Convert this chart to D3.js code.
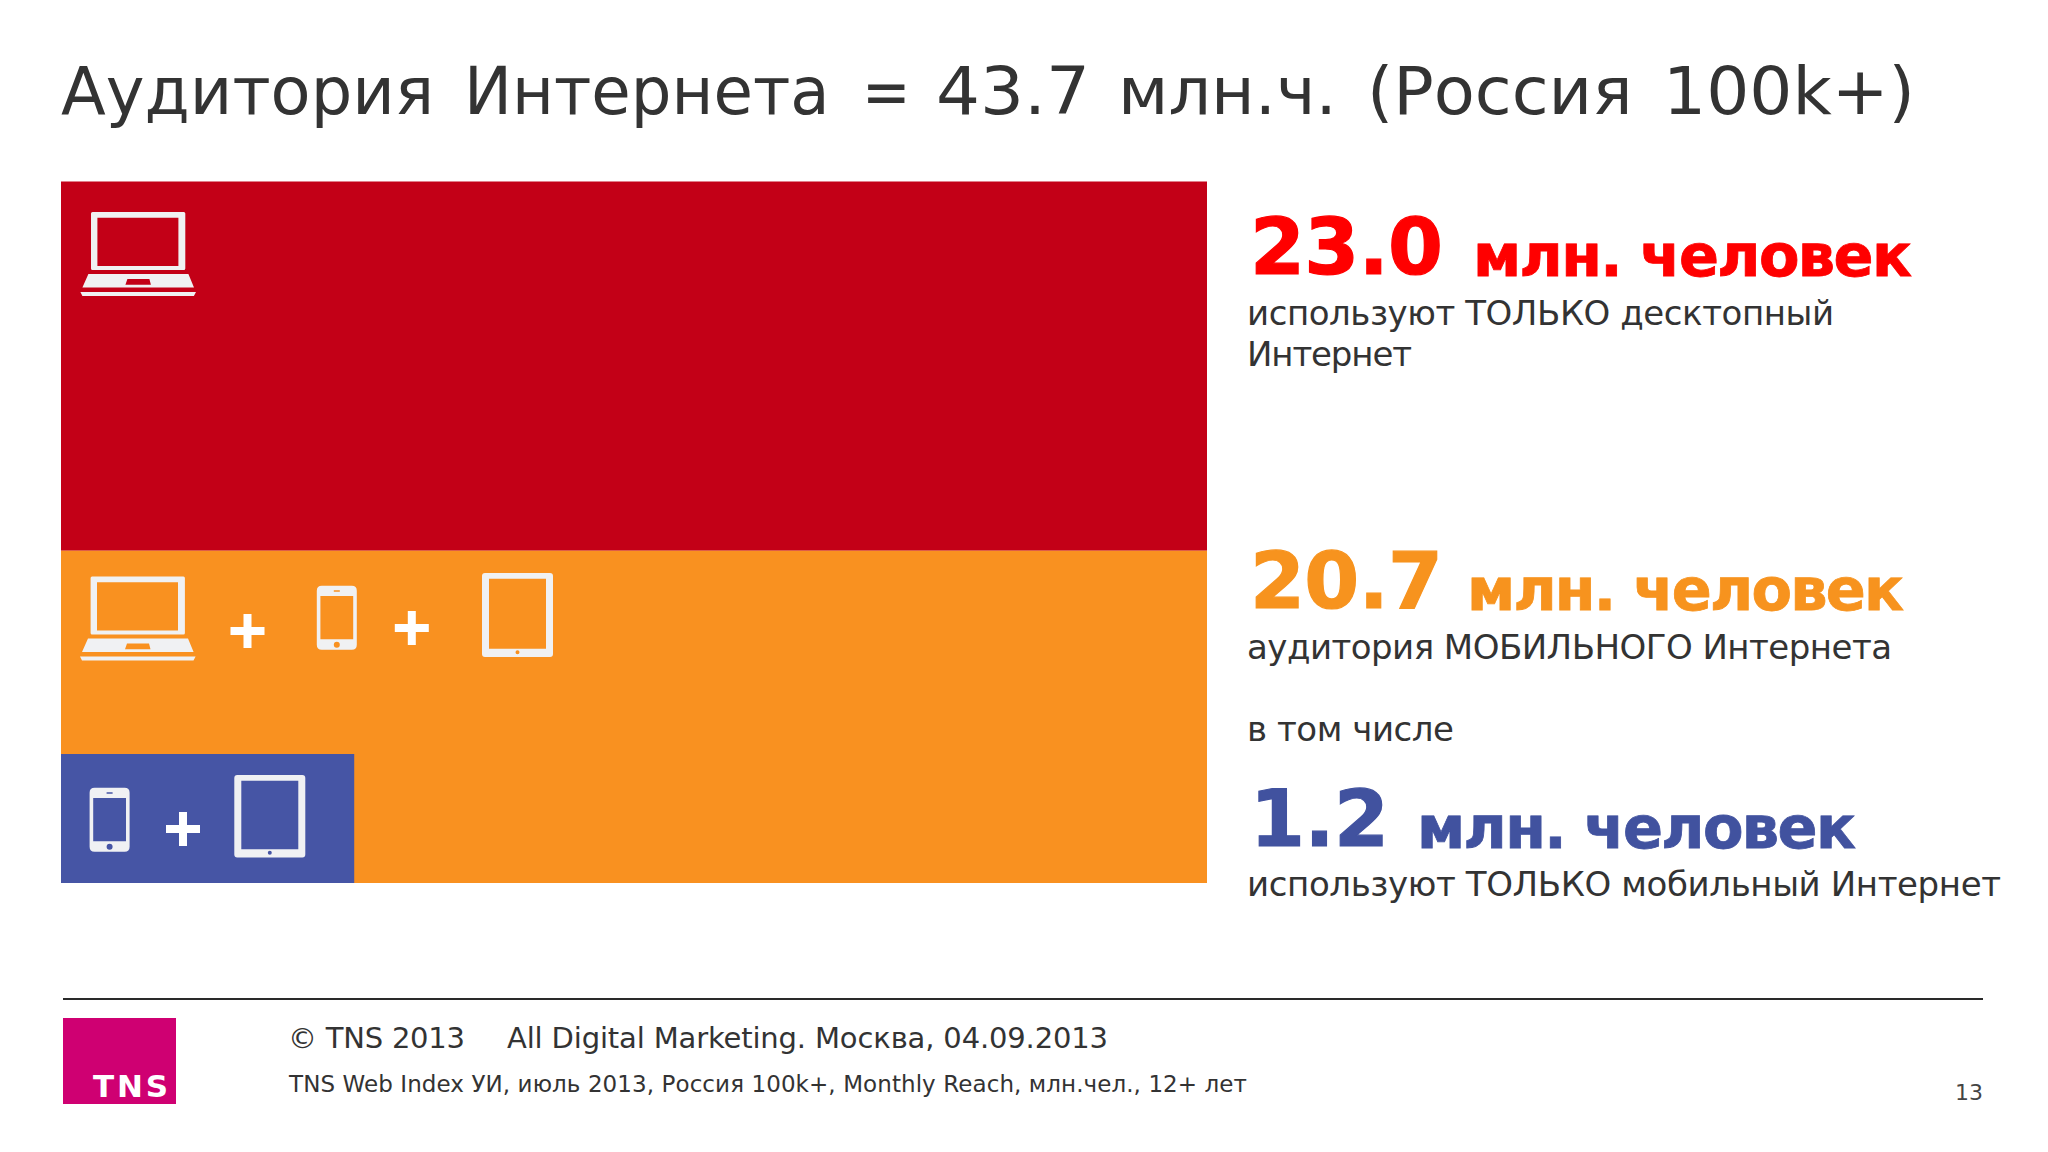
<!DOCTYPE html>
<html>
<head>
<meta charset="utf-8">
<style>
html, body { margin: 0; padding: 0; background: #fff; }
svg { display: block; }
text { font-family: "DejaVu Sans", sans-serif; }
</style>
<script src="https://cdn.jsdelivr.net/npm/d3@7"></script>
</head>
<body>
<svg id="chart" width="2048" height="1152"></svg>
<script>
// values, millions of people
const segments = ["Только десктоп", "Мобильный Интернет"];
const segmentValues = [23.0, 20.7];
const segmentColors = ["#c30017", "#f99120"];
const mobileOnlyValue = 1.2;
const numberLabels = ["23.0", "20.7", "1.2"];
const numberColors = ["#ff0000", "#f7931e", "#41529f"];
const unitLabel = "млн. человек";
const titleWords = ["Аудитория", "Интернета", "=", "43.7", "млн.ч.", "(Россия", "100k+)"];

const svg = d3.select("#chart");
const iconFill = "#f0f1f3";
const textColor = "#333";

const chartLeft = 61, chartRight = 1207, chartTop = 181.5, chartBottom = 883;
const insetTop = 754;

const y = d3.scaleLinear().domain([0, d3.sum(segmentValues)]).range([chartTop, chartBottom]);
// inset is drawn wider than its share of the bar, same as on the slide
const xInset = d3.scaleLinear().domain([0, 4.69]).range([chartLeft, chartRight]);

let acc = 0;
segmentValues.forEach((v, i) => {
    svg.append("rect")
        .attr("x", chartLeft)
        .attr("y", y(acc))
        .attr("width", chartRight - chartLeft)
        .attr("height", y(acc + v) - y(acc))
        .attr("fill", segmentColors[i]);
    acc += v;
});

svg.append("rect")
    .attr("x", chartLeft)
    .attr("y", insetTop)
    .attr("width", xInset(mobileOnlyValue) - chartLeft)
    .attr("height", chartBottom - insetTop)
    .attr("fill", "#4655a5");

function addText(str, x, baseline, size, opts = {}) {
    const t = svg.append("text")
        .attr("x", x)
        .attr("y", baseline)
        .style("font-size", size + "px")
        .style("font-weight", opts.weight || "normal")
        .style("fill", opts.fill || textColor)
        .text(str);
    if (opts.width) t.attr("textLength", opts.width);
    if (opts.family) t.style("font-family", opts.family);
    if (opts.heavy) t.style("stroke", opts.fill).style("stroke-width", opts.heavy);
    return t;
}

// title, word by word because the slide font is narrower than DejaVu in places
const titleStart = [61, 464, 862, 936, 1118, 1367, 1663];
const titleWidth = [373, 365, 46, 155, 219, 266, 252];
const spaceWidth = 21; // trailing space counts in textLength
const title = svg.append("text").attr("y", 114).style("font-size", "66px").style("fill", "#333");
titleWords.forEach((w, i) => {
    const last = i === titleWords.length - 1;
    title.append("tspan")
        .attr("x", titleStart[i])
        .attr("textLength", last ? titleWidth[i] : titleWidth[i] + spaceWidth)
        .attr("lengthAdjust", "spacingAndGlyphs")
        .text(last ? w : w + " ");
});

// big numbers + captions
const big = (i, x, base, w) => addText(numberLabels[i], x, base, 79, { weight: "bold", fill: numberColors[i], width: w, heavy: 1.2 });
const unit = (i, x, base, w) => addText(unitLabel, x, base, 59, { weight: "bold", fill: numberColors[i], width: w, heavy: 0.8 });

big(0, 1250, 274, 193);
unit(0, 1473, 275.5, 439);
addText("используют ТОЛЬКО десктопный", 1247, 325, 34, { width: 587 });
addText("Интернет", 1247, 366, 34, { width: 165 });

big(1, 1250, 608, 193);
unit(1, 1467, 609.5, 437);
addText("аудитория МОБИЛЬНОГО Интернета", 1247, 659, 34, { width: 645 });
addText("в том числе", 1247, 741, 34, { width: 207 });

big(2, 1250, 846, 139);
unit(2, 1417, 847.5, 439);
addText("используют ТОЛЬКО мобильный Интернет", 1247, 896, 34, { width: 754 });

// footer
svg.append("line")
    .attr("x1", 63).attr("x2", 1983)
    .attr("y1", 999).attr("y2", 999)
    .attr("stroke", "#2a2a2a").attr("stroke-width", 2);

svg.append("rect").attr("x", 63).attr("y", 1018).attr("width", 113).attr("height", 86).attr("fill", "#cf0072");
addText("TNS", 93, 1097, 31, { weight: "bold", fill: "#fff", width: 75 });

addText("© TNS 2013", 288, 1048, 29, { width: 177 });
addText("All Digital Marketing. Москва, 04.09.2013", 507, 1048, 29, { width: 601 });
addText("TNS Web Index УИ, июль 2013, Россия 100k+, Monthly Reach, млн.чел., 12+ лет", 289, 1092, 23, { width: 958 });
addText("13", 1955, 1100, 22, { width: 28, fill: "#444" });

// icons
function roundRectPath(p, x, y, w, h, r) {
    p.moveTo(x + r, y);
    p.lineTo(x + w - r, y);
    p.quadraticCurveTo(x + w, y, x + w, y + r);
    p.lineTo(x + w, y + h - r);
    p.quadraticCurveTo(x + w, y + h, x + w - r, y + h);
    p.lineTo(x + r, y + h);
    p.quadraticCurveTo(x, y + h, x, y + h - r);
    p.lineTo(x, y + r);
    p.quadraticCurveTo(x, y, x + r, y);
    p.closePath();
}

function circlePath(p, cx, cy, r) {
    p.moveTo(cx + r, cy);
    p.arc(cx, cy, r, 0, 2 * Math.PI);
    p.closePath();
}

function addIcon(p) {
    svg.append("path").attr("d", p.toString()).attr("fill", iconFill).attr("fill-rule", "evenodd");
}

function laptop(x, top) {
    const p = d3.path();
    // screen
    roundRectPath(p, x + 10.6, top, 94.3, 58, 1.5);
    p.rect(x + 17, top + 5.7, 81, 48.3);
    // keyboard with trackpad
    p.moveTo(x + 8, top + 62);
    p.lineTo(x + 108, top + 62);
    p.lineTo(x + 113.6, top + 75.5);
    p.lineTo(x + 2, top + 75.5);
    p.closePath();
    p.moveTo(x + 47, top + 67);
    p.lineTo(x + 69, top + 67);
    p.lineTo(x + 70.5, top + 72.7);
    p.lineTo(x + 45, top + 72.7);
    p.closePath();
    // front edge
    p.moveTo(x, top + 80);
    p.lineTo(x + 115.6, top + 80);
    p.lineTo(x + 113.5, top + 84);
    p.lineTo(x + 2, top + 84);
    p.closePath();
    addIcon(p);
}

function phone(x, top) {
    const p = d3.path();
    roundRectPath(p, x, top, 40, 64, 5);
    p.rect(x + 3.6, top + 10.3, 32.8, 43.3);
    p.rect(x + 17, top + 4.5, 6, 1.6);
    circlePath(p, x + 20, top + 59, 3);
    addIcon(p);
}

function tablet(x, top, h) {
    const p = d3.path();
    roundRectPath(p, x, top, 71, h, 3);
    p.rect(x + 7, top + 5.8, 57, h - 14);
    circlePath(p, x + 35.5, top + h - 4.8, 2);
    addIcon(p);
}

function plus(cx, cy) {
    const arm = 17, half = 4;
    const p = d3.path();
    p.rect(cx - arm, cy - half, arm * 2, half * 2);
    p.rect(cx - half, cy - arm, half * 2, arm * 2);
    svg.append("path").attr("d", p.toString()).attr("fill", "#fff");
}

laptop(80.4, 212);

laptop(80, 576.5);
plus(247.5, 631);
phone(316.8, 585.7);
plus(411.8, 628);
tablet(482, 573, 84);

phone(89.6, 787.7);
plus(183, 829);
tablet(234.3, 775, 82.5);
</script>
</body>
</html>
